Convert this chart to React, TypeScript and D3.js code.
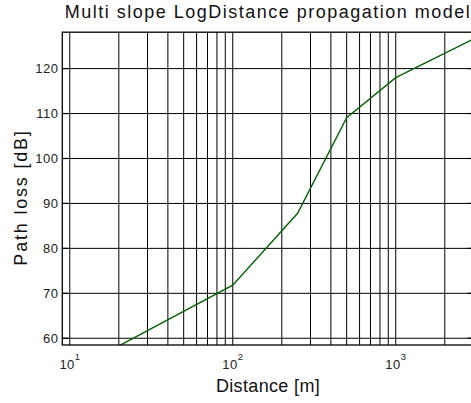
import React from "react";
import * as d3 from "d3";

const distances = [20, 100, 250, 500, 1000, 3000];
const pathLoss = [58.3, 71.8, 87.8, 109.1, 118.0, 126.6];
const xDomain = [9, 3000];
const yDomain = [58.5, 128.1];
const majorX = [10, 100, 1000];
const majorXExp = ["1", "2", "3"];

const W = 471;
const H = 403;
const left = 62.3;
const right = 473.5;
const top = 32.2;
const bottom = 345;

export default function App() {
  const x = d3.scaleLog().domain(xDomain).range([left, right]);
  const y = d3.scaleLinear().domain(yDomain).range([bottom, top]);
  const vGrid = x.ticks().filter((v) => v > xDomain[0] && v < xDomain[1]);
  const hGrid = y.ticks(7);
  const pts = distances.map((d, i) => [d, pathLoss[i]] as [number, number]);
  const line = d3
    .line<[number, number]>()
    .x((d) => x(d[0]))
    .y((d) => y(d[1]));
  const font = "'Liberation Sans', Arial, Helvetica, sans-serif";
  return (
    <svg
      width={W}
      height={H}
      style={{ position: "fixed", left: 0, top: 0, background: "#fff" }}
      fontFamily={font}
    >
      <defs>
        <clipPath id="plotclip">
          <rect x={left} y={top} width={right - left} height={bottom - top} />
        </clipPath>
      </defs>
      <rect x={0} y={0} width={W} height={H} fill="#fff" />
      {vGrid.map((v) => (
        <line key={"v" + v} x1={x(v)} x2={x(v)} y1={top} y2={bottom} stroke="#000" strokeWidth={1} />
      ))}
      {hGrid.map((v) => (
        <line key={"h" + v} x1={left} x2={right} y1={y(v)} y2={y(v)} stroke="#000" strokeWidth={1} />
      ))}
      {hGrid.map((v) => (
        <g key={"yt" + v}>
          <line x1={left} x2={left + 6} y1={y(v)} y2={y(v)} stroke="#000" strokeWidth={1.2} />
          <line x1={right - 6} x2={right} y1={y(v)} y2={y(v)} stroke="#000" strokeWidth={1.2} />
          <text
            x={58.5}
            y={y(v) + 4.6}
            textAnchor="end"
            fontSize={13}
            letterSpacing={0.5}
            fill="#222"
          >
            {v}
          </text>
        </g>
      ))}
      <path
        d={line(pts) || ""}
        fill="none"
        stroke="#006400"
        strokeWidth={1.4}
        clipPath="url(#plotclip)"
      />
      <rect
        x={left}
        y={top}
        width={right - left}
        height={bottom - top}
        fill="none"
        stroke="#000"
        strokeWidth={1.3}
      />
      {majorX.map((v, i) => (
        <text key={"xt" + v} x={x(v)} y={369} textAnchor="middle" fill="#222">
          <tspan fontSize={13} letterSpacing={0.5}>10</tspan>
          <tspan fontSize={9.5} dy={-9}>{majorXExp[i]}</tspan>
        </text>
      ))}
      <text
        x={268}
        y={391.5}
        textAnchor="middle"
        fontSize={18}
        letterSpacing={0.35}
        fill="#111"
      >
        Distance [m]
      </text>
      <text
        transform={`translate(26.6, 197.5) rotate(-90)`}
        textAnchor="middle"
        fontSize={18}
        letterSpacing={1.8}
        fill="#111"
      >
        Path loss [dB]
      </text>
      <text
        x={268}
        y={18.3}
        textAnchor="middle"
        fontSize={18}
        letterSpacing={1.5}
        fill="#111"
      >
        Multi slope LogDistance propagation model
      </text>
    </svg>
  );
}
